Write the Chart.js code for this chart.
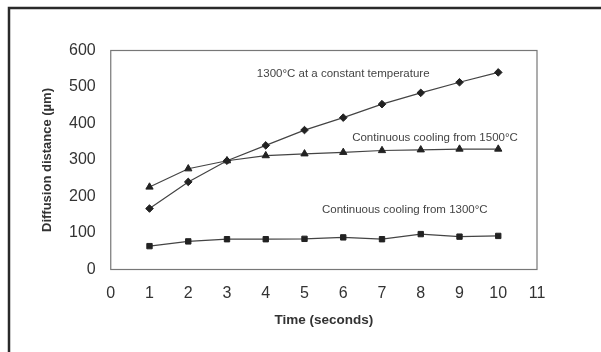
<!DOCTYPE html>
<html>
<head>
<meta charset="utf-8">
<script src="https://cdn.jsdelivr.net/npm/chart.js@4.4.1/dist/chart.umd.min.js"></script>
<style>
  html, body { margin: 0; padding: 0; background: #fff; }
  #wrap { width: 601px; height: 352px; position: relative; }
</style>
</head>
<body>
<div id="wrap"><canvas id="myChart"></canvas></div>
<script>
// #region data
const times = [1, 2, 3, 4, 5, 6, 7, 8, 9, 10];
const constant1300 = [167, 240, 298, 340, 382, 416, 453, 484, 513, 540];
const cooling1500 = [226, 276, 298, 312, 317, 321, 326, 328, 330, 330];
const cooling1300 = [64, 77, 83, 83, 84, 88, 83, 97, 90, 92];
const xTicks = [0, 1, 2, 3, 4, 5, 6, 7, 8, 9, 10, 11];
const yTicks = [0, 100, 200, 300, 400, 500, 600];
// #endregion data

// labels written on the plot, placed in data units
const notes = [
    { text: '1300°C at a constant temperature', x: 3.77, y: 536 },
    { text: 'Continuous cooling from 1500°C', x: 6.23, y: 360 },
    { text: 'Continuous cooling from 1300°C', x: 5.45, y: 163 }
];

const ink = '#333';
const font = 'Liberation Sans, Arial, sans-serif';

function points(values) {
    return times.map((t, i) => ({ x: t, y: values[i] }));
}

function series(label, values, style, radius) {
    return {
        label: label,
        data: points(values),
        borderColor: '#444',
        borderWidth: 1.2,
        backgroundColor: '#222',
        pointStyle: style,
        pointRadius: radius,
        pointBorderWidth: 1,
        pointBorderColor: '#222',
        tension: 0
    };
}

// frame around the figure and box around the plot area
const frame = {
    id: 'frame',
    beforeDraw(chart) {
        const ctx = chart.ctx;
        ctx.save();
        ctx.fillStyle = '#fff';
        ctx.fillRect(0, 0, chart.width, chart.height);
        ctx.strokeStyle = '#2a2a2a';
        ctx.lineWidth = 2.5;
        ctx.beginPath();
        ctx.moveTo(9, chart.height);
        ctx.lineTo(9, 8);
        ctx.lineTo(chart.width, 8);
        ctx.stroke();
        ctx.restore();
    },
    afterDatasetsDraw(chart) {
        const ctx = chart.ctx, a = chart.chartArea;
        ctx.save();
        ctx.strokeStyle = '#777';
        ctx.lineWidth = 1.2;
        ctx.strokeRect(a.left, a.top, a.right - a.left, a.bottom - a.top);

        const xs = chart.scales.x, ys = chart.scales.y;
        ctx.fillStyle = '#444';
        ctx.font = '11.5px ' + font;
        ctx.textBaseline = 'middle';
        ctx.textAlign = 'left';
        notes.forEach(n => {
            ctx.fillText(n.text, xs.getPixelForValue(n.x), ys.getPixelForValue(n.y));
        });
        ctx.restore();
    }
};

new Chart(document.getElementById('myChart'), {
    type: 'line',
    data: {
        datasets: [
            series('1300°C at a constant temperature', constant1300, 'rectRot', 3.8),
            series('Continuous cooling from 1500°C', cooling1500, 'triangle', 4.2),
            series('Continuous cooling from 1300°C', cooling1300, 'rect', 3.8)
        ]
    },
    options: {
        responsive: true,
        maintainAspectRatio: false,
        animation: false,
        layout: { padding: { left: 0, right: 64, top: 50.5, bottom: 0 } },
        plugins: {
            legend: { display: false },
            tooltip: { enabled: false }
        },
        scales: {
            x: {
                type: 'linear',
                min: 0,
                max: 11,
                afterFit(scale) { scale.height = 82.5; },
                afterBuildTicks(scale) { scale.ticks = xTicks.map(v => ({ value: v })); },
                grid: { display: false, drawTicks: false },
                border: { display: false },
                ticks: {
                    color: ink,
                    font: { family: font, size: 16 },
                    padding: 14,
                    maxRotation: 0
                },
                title: {
                    display: true,
                    text: 'Time (seconds)',
                    color: ink,
                    font: { family: font, size: 13.5, weight: 'bold' },
                    padding: { top: 0, bottom: 24 }
                }
            },
            y: {
                min: 0,
                max: 600,
                afterFit(scale) { scale.width = 110.75; },
                afterBuildTicks(scale) { scale.ticks = yTicks.map(v => ({ value: v })); },
                grid: { display: false, drawTicks: false },
                border: { display: false },
                ticks: {
                    color: ink,
                    font: { family: font, size: 16 },
                    padding: 15
                },
                title: {
                    display: true,
                    text: 'Diffusion distance (µm)',
                    color: ink,
                    font: { family: font, size: 13, weight: 'bold' },
                    padding: { top: 40, bottom: 0 }
                }
            }
        }
    },
    plugins: [frame]
});
</script>
</body>
</html>
